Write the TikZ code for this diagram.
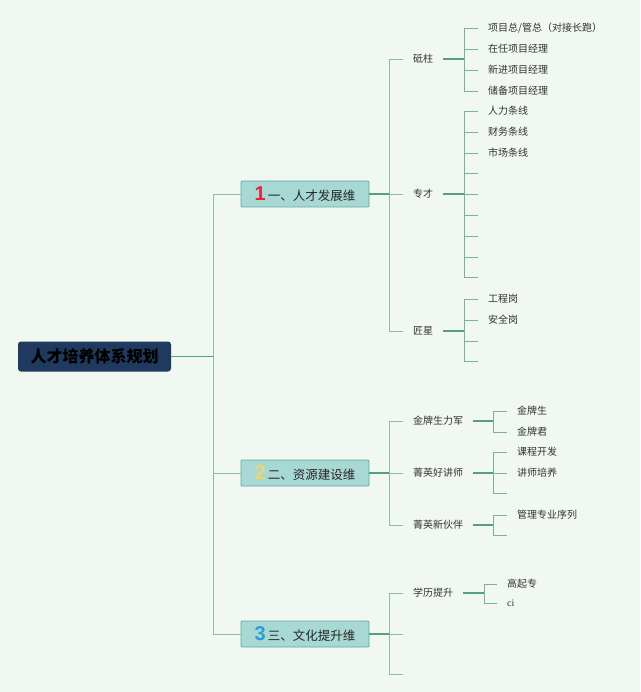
\documentclass[tikz,border=0pt]{standalone}
\usepackage{fontspec}
\setmainfont{Noto Sans CJK SC}
\newfontfamily\latinserif{Liberation Serif}
\newfontfamily\numfont{Liberation Sans}
\usetikzlibrary{calc}
\definecolor{bgc}{HTML}{F0F8F1}
\definecolor{navy}{HTML}{1F3A5E}
\definecolor{boxfill}{HTML}{A8D8D3}
\definecolor{boxline}{HTML}{5DAA9B}
\definecolor{linedark}{HTML}{5A9E82}
\definecolor{linelight}{HTML}{8DBCA6}
\definecolor{txt}{HTML}{333333}
\definecolor{numred}{HTML}{E0283A}
\definecolor{numyellow}{HTML}{F3D46A}
\definecolor{numblue}{HTML}{2C9BDA}
\tikzset{
  rootbox/.style={fill=navy, rounded corners=3pt, minimum width=153pt, minimum height=30pt,
    inner sep=0pt, font=\fontsize{16}{18}\selectfont\bfseries, text=black},
  lvlbox/.style={fill=boxfill, draw=boxline, line width=0.9pt, rounded corners=1pt,
    minimum width=128pt, minimum height=26pt, inner sep=0pt,
    font=\fontsize{12.5}{14}\selectfont, text=black!85},
  midtxt/.style={anchor=west, inner xsep=10pt, inner ysep=2pt, text=txt,
    font=\fontsize{10}{12}\selectfont},
  leaf/.style={anchor=west, inner xsep=10pt, inner ysep=2pt, text=txt,
    font=\fontsize{10}{12}\selectfont},
  trunk/.style={draw=linedark, line width=1.1pt},
  spine/.style={draw=linelight, line width=0.9pt},
  subtrunk/.style={draw=linedark, line width=1.4pt},
  subspine/.style={draw=linedark!80, line width=0.9pt},
}
\begin{document}
\begin{tikzpicture}[x=1pt,y=-1pt]
\fill[bgc] (0,0) rectangle (640,692);
\useasboundingbox (0,0) rectangle (640,692);

% root
\node[rootbox] (R) at (94.5,356.5) {人才培养体系规划};

% level 1
\node[lvlbox] (L1) at (305,194) {{\numfont\bfseries\fontsize{20}{20}\selectfont\color{numred}1}\,一、人才发展维};
\node[lvlbox] (L2) at (305,473) {{\numfont\bfseries\fontsize{20}{20}\selectfont\color{numyellow}2}\,二、资源建设维};
\node[lvlbox] (L3) at (305,634) {{\numfont\bfseries\fontsize{20}{20}\selectfont\color{numblue}3}\,三、文化提升维};

% level 2
\node[midtxt] (A1) at (403,59) {砥柱};
\node[midtxt] (A2) at (403,194) {专才};
\node[midtxt] (A3) at (403,331) {匠星};
\node[midtxt] (B1) at (403,421) {金牌生力军};
\node[midtxt] (B2) at (403,473) {菁英好讲师};
\node[midtxt] (B3) at (403,525) {菁英新伙伴};
\node[midtxt] (C1) at (403,593) {学历提升};
\coordinate (C2) at (403,634);
\coordinate (C3) at (403,674);

% leaves
\node[leaf] (a11) at (478,28) {项目总/管总（对接长跑）};
\node[leaf] (a12) at (478,49) {在任项目经理};
\node[leaf] (a13) at (478,70) {新进项目经理};
\node[leaf] (a14) at (478,91) {储备项目经理};

\node[leaf] (a21) at (478,111) {人力条线};
\node[leaf] (a22) at (478,132) {财务条线};
\node[leaf] (a23) at (478,153) {市场条线};
\coordinate (a24) at (478,173);
\coordinate (a25) at (478,194);
\coordinate (a26) at (478,215);
\coordinate (a27) at (478,236);
\coordinate (a28) at (478,257);
\coordinate (a29) at (478,277);

\node[leaf] (a31) at (478,299) {工程岗};
\node[leaf] (a32) at (478,320) {安全岗};
\coordinate (a33) at (478,341);
\coordinate (a34) at (478,361);

\node[leaf] (b11) at (507,411) {金牌生};
\node[leaf] (b12) at (507,432) {金牌君};
\node[leaf] (b21) at (507,452) {课程开发};
\node[leaf] (b22) at (507,473) {讲师培养};
\coordinate (b23) at (507,493);
\node[leaf] (b31) at (507,515) {管理专业序列};
\coordinate (b32) at (507,535);

\node[leaf] (c11) at (497,584) {高起专};
\node[leaf, font=\latinserif\fontsize{10}{12}\selectfont] (c12) at (497,603) {ci};

% root -> level1
\draw[trunk] (R.east) -- ++(42,0);
\foreach \c in {L1,L2,L3} \draw[spine] ($(R.east)+(42,0)$) |- (\c.west);

% level1 -> level2
\draw[trunk] (L1.east) -- ++(20,0);
\foreach \c in {A1,A2,A3} \draw[spine] ($(L1.east)+(20,0)$) |- (\c.west);
\draw[trunk] (L2.east) -- ++(20,0);
\foreach \c in {B1,B2,B3} \draw[spine] ($(L2.east)+(20,0)$) |- (\c.west);
\draw[trunk] (L3.east) -- ++(20,0);
\draw[spine] ($(L3.east)+(20,0)$) |- (C1.west);
\draw[spine] ($(L3.east)+(20,0)$) |- (C2);
\draw[spine] ($(L3.east)+(20,0)$) |- (C3);

% level2 -> leaves
\draw[subtrunk] (A1.east) -- ++(21,0);
\foreach \c in {a11,a12,a13,a14} \draw[subspine] ($(A1.east)+(21,0)$) |- (\c.west);
\draw[subtrunk] (A2.east) -- ++(21,0);
\foreach \c in {a21,a22,a23} \draw[subspine] ($(A2.east)+(21,0)$) |- (\c.west);
\foreach \c in {a24,a25,a26,a27,a28,a29} \draw[subspine] ($(A2.east)+(21,0)$) |- (\c);
\draw[subtrunk] (A3.east) -- ++(21,0);
\foreach \c in {a31,a32} \draw[subspine] ($(A3.east)+(21,0)$) |- (\c.west);
\foreach \c in {a33,a34} \draw[subspine] ($(A3.east)+(21,0)$) |- (\c);

\draw[subtrunk] (B1.east) -- ++(20,0);
\foreach \c in {b11,b12} \draw[subspine] ($(B1.east)+(20,0)$) |- (\c.west);
\draw[subtrunk] (B2.east) -- ++(20,0);
\foreach \c in {b21,b22} \draw[subspine] ($(B2.east)+(20,0)$) |- (\c.west);
\draw[subspine] ($(B2.east)+(20,0)$) |- (b23);
\draw[subtrunk] (B3.east) -- ++(20,0);
\draw[subspine] ($(B3.east)+(20,0)$) |- (b31.west);
\draw[subspine] ($(B3.east)+(20,0)$) |- (b32);

\draw[subtrunk] (C1.east) -- ++(21,0);
\foreach \c in {c11,c12} \draw[subspine] ($(C1.east)+(21,0)$) |- (\c.west);
\end{tikzpicture}
\end{document}
